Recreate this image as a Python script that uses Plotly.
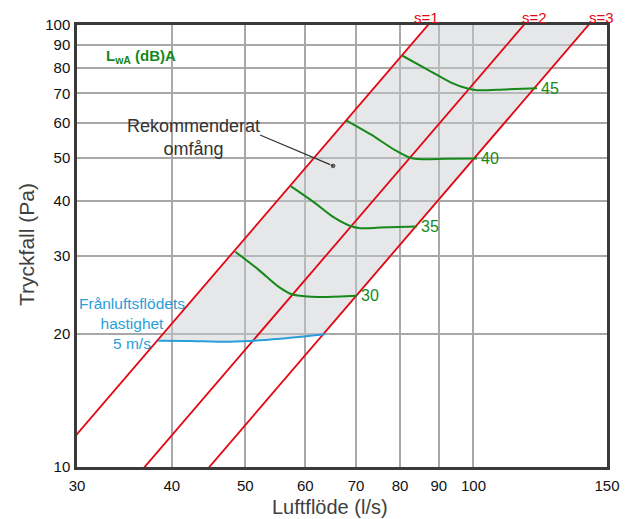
import numpy as np
import plotly.graph_objects as go

# ---------------- data ----------------
x_ticks = [30, 40, 50, 60, 70, 80, 90, 100, 150]
y_ticks = [10, 20, 30, 40, 50, 60, 70, 80, 90, 100]

# system lines: pressure = 100 * (flow / flow_at_100Pa)^2
s_labels = ["s=1", "s=2", "s=3"]
s_flow_at_100 = [87.1, 116.5, 141.8]

# sound level curves L_wA (dB)A
c30_x = [48.5, 52.0, 55.3, 57.6, 60.6, 63.7, 70.2]
c30_y = [30.7, 28.0, 25.6, 24.6, 24.3, 24.25, 24.4]
c35_x = [57.4, 61.5, 65.3, 68.8, 70.9, 75.3, 84.2]
c35_y = [43.2, 39.8, 36.8, 35.1, 34.7, 34.8, 35.0]
c40_x = [68.0, 73.4, 78.8, 82.5, 85.5, 91.8, 101.1]
c40_y = [60.8, 56.4, 52.1, 50.1, 49.7, 49.8, 49.9]
c45_x = [80.6, 87.2, 93.6, 98.0, 101.1, 110.1, 121.3]
c45_y = [85.2, 79.1, 74.0, 71.9, 71.2, 71.5, 71.9]
curve_labels = ["30", "35", "40", "45"]

# exhaust air velocity 5 m/s
v_x = [38.4, 42.3, 46.8, 50.7, 55.6, 63.7]
v_y = [19.3, 19.28, 19.2, 19.28, 19.5, 19.96]

# recommended range pointer
rec_point = (65.3, 48.0)
rec_line_start = (52.3, 56.4)

# ---------------- styles ----------------
RED = "#e30613"
GREEN = "#16891a"
BLUE = "#2a9ed8"
FONT = "Liberation Sans, Arial, sans-serif"

W, H = 634, 519
L, R, T, B = 77, 27, 25, 52


def paper(px, py):
    return ((px - L) / (W - L - R), (H - B - py) / (H - T - B))


fig = go.Figure()

# shaded recommended area (between s=1 and s=3, above velocity line)
x1_top = s_flow_at_100[0]
x3_top = s_flow_at_100[2]
poly_x = [v_x[0], x1_top, x3_top, v_x[-1]] + v_x[::-1]
poly_y = [v_y[0], 100, 100, v_y[-1]] + v_y[::-1]
fig.add_trace(go.Scatter(x=poly_x, y=poly_y, fill="toself", mode="lines",
                         line=dict(width=0), fillcolor="rgba(200,202,205,0.46)",
                         hoverinfo="skip", showlegend=False))

# system lines
xs = np.geomspace(25, 160, 50)
for xt in s_flow_at_100:
    fig.add_trace(go.Scatter(x=xs, y=100 * (xs / xt) ** 2, mode="lines",
                             line=dict(color=RED, width=1.8), showlegend=False))

# velocity line
fig.add_trace(go.Scatter(x=v_x, y=v_y, mode="lines", line=dict(color=BLUE, width=2, shape="spline"),
                         showlegend=False))

# sound curves
curves = [(c30_x, c30_y), (c35_x, c35_y), (c40_x, c40_y), (c45_x, c45_y)]
for (cx, cy), lab in zip(curves, curve_labels):
    fig.add_trace(go.Scatter(x=cx, y=cy, mode="lines",
                             line=dict(color=GREEN, width=2, shape="spline", smoothing=0.8),
                             showlegend=False))
    fig.add_annotation(x=np.log10(cx[-1]), y=np.log10(cy[-1]), text=lab, showarrow=False,
                       xanchor="left", yanchor="middle", xshift=2,
                       font=dict(family=FONT, size=16, color=GREEN))

# pointer line and dot
fig.add_trace(go.Scatter(x=[rec_line_start[0], rec_point[0]], y=[rec_line_start[1], rec_point[1]],
                         mode="lines+markers", line=dict(color="#333333", width=1.2),
                         marker=dict(size=[0, 6], color="#333333"), showlegend=False))


def text_at(px, py, txt, size, color, xanchor="center", yanchor="middle", textangle=0):
    x, y = paper(px, py)
    fig.add_annotation(xref="paper", yref="paper", x=x, y=y, text=txt, showarrow=False,
                       xanchor=xanchor, yanchor=yanchor, textangle=textangle, borderpad=0,
                       font=dict(family=FONT, size=size, color=color))


text_at(193, 137, "Rekommenderat<br>omfång", 18, "#333333")
text_at(132, 323, "Frånluftsflödets<br>hastighet<br>5 m/s", 15.5, BLUE)
text_at(105, 57, "<b>L<sub>wA</sub> (dB)A</b>", 15, GREEN, xanchor="left")
for lab, cx in zip(s_labels, [426.7, 534.7, 601.7]):
    text_at(cx, 17, lab, 15, RED)
text_at(330, 519, "Luftflöde (l/s)", 20, "#404040", yanchor="bottom")
text_at(26, 245, "Tryckfall (Pa)", 21, "#404040", textangle=-90)

axis_common = dict(showgrid=True, gridcolor="#a8a8a8", gridwidth=1.5,
                   showline=True, linecolor="#3a3a3a", linewidth=2.5, mirror=True,
                   zeroline=False, ticks="",
                   tickfont=dict(family=FONT, size=15, color="#111111"))

fig.update_xaxes(type="log", range=[np.log10(30), np.log10(150)],
                 tickvals=x_ticks, ticktext=[str(v) for v in x_ticks],
                 ticklabelstandoff=3, **axis_common)
fig.update_yaxes(type="log", range=[1, 2],
                 tickvals=y_ticks, ticktext=[str(v) for v in y_ticks],
                 ticklabelstandoff=1, **axis_common)

fig.update_layout(width=W, height=H, margin=dict(l=L, r=R, t=T, b=B),
                  plot_bgcolor="white", paper_bgcolor="white", showlegend=False,
                  font=dict(family=FONT))

fig.write_html("out.html", config={"displayModeBar": False},
               post_script="document.body.style.margin='0';")
